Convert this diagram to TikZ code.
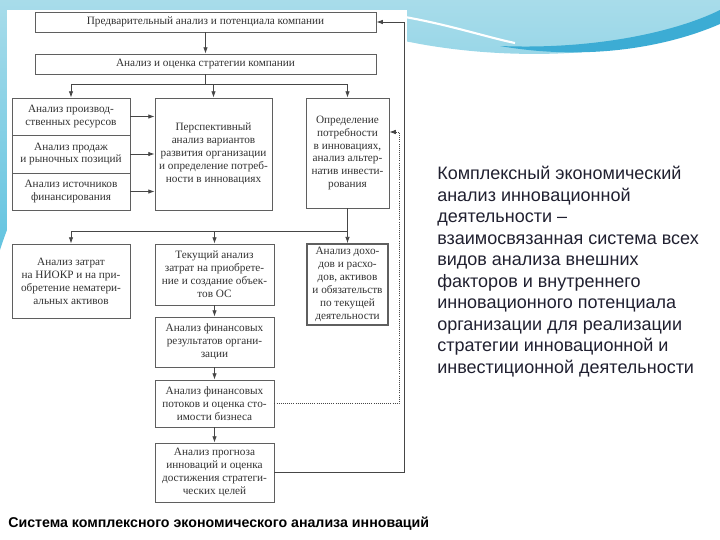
\documentclass[tikz,border=0pt]{standalone}
\usepackage{fontspec}
\setmainfont{Liberation Serif}
\setsansfont{Liberation Sans}
\usetikzlibrary{arrows.meta}
\definecolor{boxgray}{RGB}{95,95,95}
\definecolor{textgray}{RGB}{50,50,50}
\definecolor{linegray}{RGB}{70,70,70}
\definecolor{swA}{RGB}{168,220,234}
\definecolor{swB}{RGB}{100,196,224}
\definecolor{swC}{RGB}{60,172,212}
\definecolor{bodytext}{RGB}{32,32,48}
\tikzset{
  box/.style={draw=boxgray, line width=0.6pt, fill=white, inner sep=1pt, align=center,
    font=\fontsize{8}{9.2}\selectfont, text=textgray},
  arr/.style={-{Latex[length=4.5pt,width=3.2pt]}, draw=linegray, line width=0.6pt},
  ln/.style={draw=linegray, line width=0.6pt},
  dotarr/.style={-{Latex[length=4.5pt,width=3.2pt]}, draw=linegray, line width=0.5pt, densely dotted},
}
\begin{document}
\begin{tikzpicture}[x=0.25mm,y=-0.25mm]
\useasboundingbox (0,0) rectangle (720,540);
% background swoosh
\shade[top color=swA, bottom color=swB] (0,0) -- (720,0) -- (720,22) .. controls (640,56) and (520,62) .. (420,44) .. controls (250,10) and (60,60) .. (0,250) -- cycle;
\fill[swC] (500,46) .. controls (600,50) and (680,30) .. (720,10) -- (720,24) .. controls (660,50) and (580,60) .. (500,46) -- cycle;
\draw[white, line width=1.5pt] (405,17) .. controls (450,25) and (490,38) .. (515,43);
% diagram panel
\fill[white] (7,10) rectangle (407,503);

% nodes
\node[box, minimum width=85.25mm, minimum height=5mm] (b1) at (205.5,22) {Предварительный анализ и потенциала компании};
\node[box, minimum width=85.25mm, minimum height=5mm] (b2) at (205.5,64) {Анализ и оценка стратегии компании};
\node[box, minimum width=29.5mm, minimum height=9.25mm] (r1) at (71,116.5) {Анализ производ-\\ственных ресурсов};
\node[box, minimum width=29.5mm, minimum height=9.5mm] (r2) at (71,154) {Анализ продаж\\и рыночных позиций};
\node[box, minimum width=29.5mm, minimum height=9.25mm] (r3) at (71,191.5) {Анализ источников\\финансирования};
\node[box, minimum width=29.25mm, minimum height=28mm] (pm) at (213.5,154) {Перспективный\\анализ вариантов\\развития организации\\и определение потреб-\\ности в инновациях};
\node[box, minimum width=20.75mm, minimum height=27.5mm] (pr) at (347.5,153) {Определение\\потребности\\в инновациях,\\анализ альтер-\\натив инвести-\\рования};
\node[box, minimum width=29.5mm, minimum height=18.5mm] (c1) at (71,281) {Анализ затрат\\на НИОКР и на при-\\обретение нематери-\\альных активов};
\node[box, minimum width=29.75mm, minimum height=15.25mm] (c2) at (214.5,274.5) {Текущий анализ\\затрат на приобрете-\\ние и создание объек-\\тов ОС};
\node[box, line width=1.1pt, minimum width=20.25mm, minimum height=20.25mm] (c3) at (347.5,284.5) {Анализ дохо-\\дов и расхо-\\дов, активов\\и обязательств\\по текущей\\деятельности};
\node[box, minimum width=29.75mm, minimum height=12.5mm] (d1) at (214.5,342) {Анализ финансовых\\результатов органи-\\зации};
\node[box, minimum width=29.75mm, minimum height=11.75mm] (d2) at (214.5,403.5) {Анализ финансовых\\потоков и оценка сто-\\имости бизнеса};
\node[box, minimum width=29.75mm, minimum height=14.75mm] (d3) at (214.5,472.5) {Анализ прогноза\\инноваций и оценка\\достижения стратеги-\\ческих целей};

% junction coordinates
\coordinate (j1) at (205.5,84);
\coordinate (j2) at (205.5,231);
\coordinate (f1) at (399,132);
\coordinate (f2) at (404,22);

% connectors
\draw[arr] (b1) -- (b2);
\draw[ln] (b2.south) -- (j1);
\draw[ln] (r1.north |- j1) -- (pr.north |- j1);
\draw[arr] (r1.north |- j1) -- (r1.north);
\draw[arr] (pm.north |- j1) -- (pm.north);
\draw[arr] (pr.north |- j1) -- (pr.north);

\draw[arr] (r1.east) -- (r1.east -| pm.west);
\draw[arr] (r2.east) -- (r2.east -| pm.west);
\draw[arr] (r3.east) -- (r3.east -| pm.west);

\draw[ln] (pr.south) -- (pr.south |- j2);
\draw[ln] (c1.north |- j2) -- (pr.south |- j2);
\draw[arr] (c1.north |- j2) -- (c1.north);
\draw[arr] (c2.north |- j2) -- (c2.north);
\draw[arr] (c3.north |- j2) -- (c3.north);

\draw[arr] (c2) -- (d1);
\draw[arr] (d1) -- (d2);
\draw[arr] (d2) -- (d3);

\draw[dotarr] (d2.east) -| (f1) -- (f1 -| pr.east);
\draw[arr] (d3.east) -| (f2) -- (b1.east);

% right text
\node[anchor=north west, align=left, text=bodytext, font=\sffamily\fontsize{12.8}{15.3}\selectfont, inner sep=0pt] (txt) at (437,166) {Комплексный экономический\\анализ инновационной\\деятельности –\\взаимосвязанная система всех\\видов анализа внешних\\факторов и внутреннего\\инновационного потенциала\\организации для реализации\\стратегии инновационной и\\инвестиционной деятельности};

% caption
\node[anchor=base west, inner sep=0pt, font=\sffamily\bfseries\fontsize{10.1}{12}\selectfont] (cap) at (8,527) {Система комплексного экономического анализа инноваций};
\end{tikzpicture}
\end{document}
